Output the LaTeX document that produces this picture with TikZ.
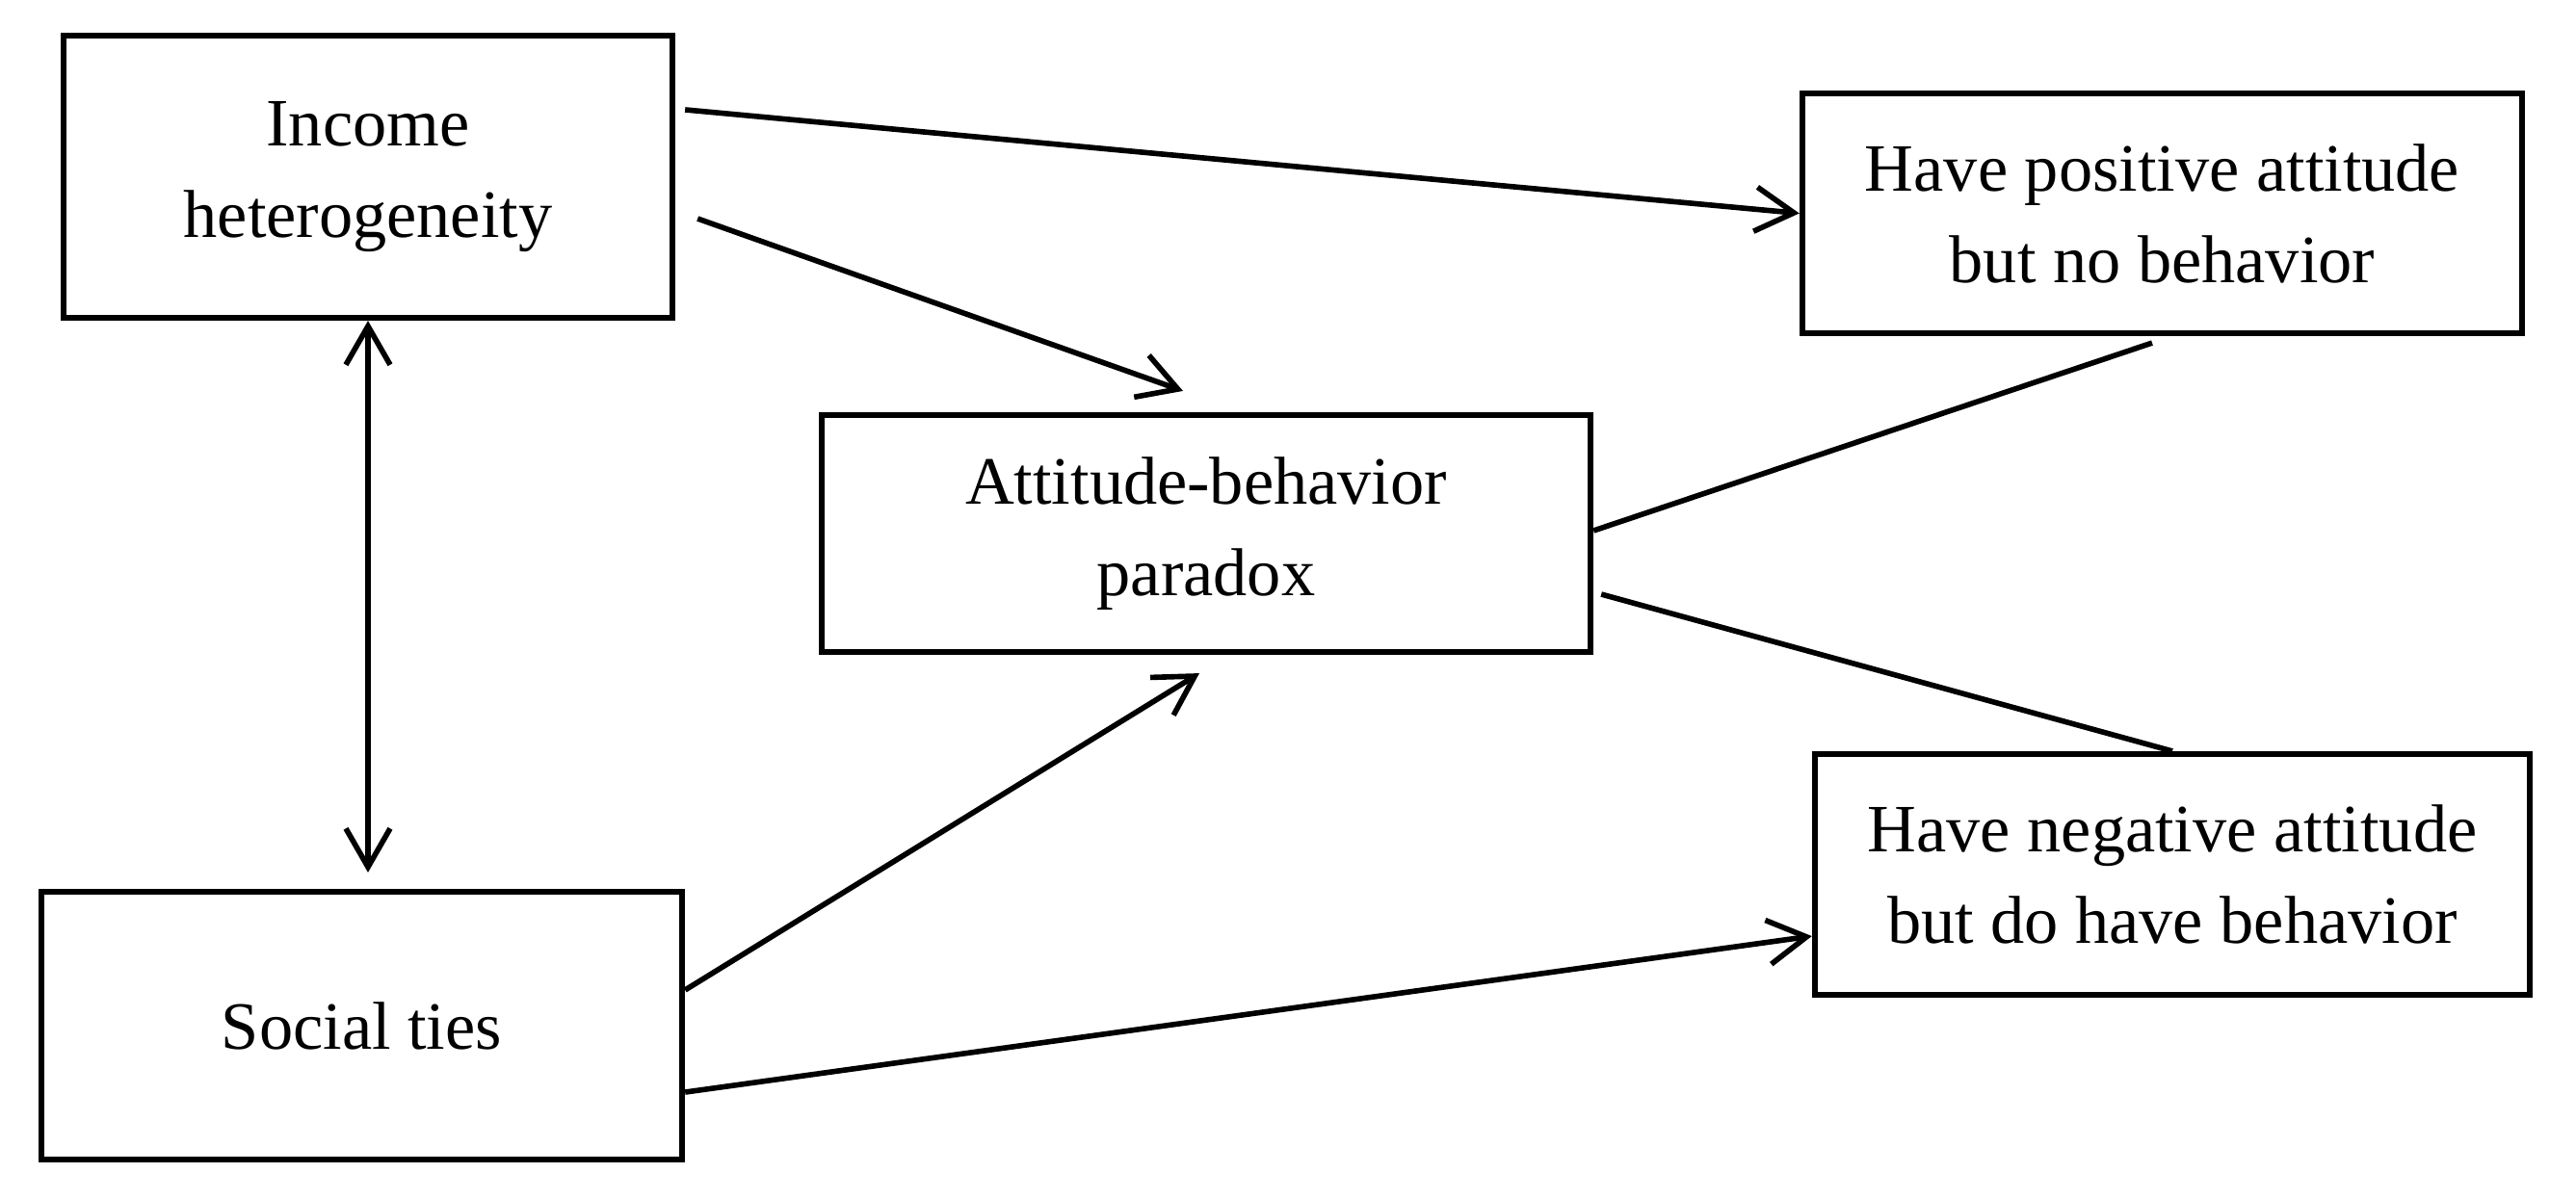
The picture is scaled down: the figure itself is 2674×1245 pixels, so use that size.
\documentclass[tikz,border=0pt]{standalone}
\usepackage{fontspec}
\setmainfont{Liberation Serif}
\usetikzlibrary{arrows.meta}

\begin{document}
\begin{tikzpicture}[x=0.01cm, y=-0.01cm,
    boite/.style={draw, line width=1.7pt, inner sep=0pt, align=center,
      font=\fontsize{20}{27}\selectfont},
    pointe/.tip={Straight Barb[length=4mm, width=4.6mm, line width=1.6pt]},
    fleche/.style={line width=1.6pt, -pointe},
    lien/.style={line width=1.6pt}]
  \useasboundingbox (0,0) rectangle (2674,1245);

  % Boites
  \node[boite, minimum width=6.32cm, minimum height=2.93cm] (revenu) at (382,183.5) {Income\\heterogeneity};
  \node[boite, minimum width=7.47cm, minimum height=2.49cm] (positif) at (2244.5,221.5) {Have positive attitude\\but no behavior};
  \node[boite, minimum width=7.98cm, minimum height=2.46cm] (paradoxe) at (1252,554) {Attitude-behavior\\paradox};
  \node[boite, minimum width=6.65cm, minimum height=2.78cm] (liens) at (375.5,1065) {Social ties};
  \node[boite, minimum width=7.42cm, minimum height=2.50cm] (negatif) at (2255,908) {Have negative attitude\\but do have behavior};

  % Fleches
  \draw[fleche] ([xshift=1mm, yshift=6.95mm]revenu.east) -- (positif.west);
  \draw[fleche] ([xshift=2.3mm, yshift=-4.35mm]revenu.east) -- ([xshift=-2.4mm, yshift=2.2mm]paradoxe.north);
  \draw[fleche, pointe-pointe, shorten >=1.7mm] (revenu.south) -- (revenu.south |- liens.north);
  \draw[fleche] ([yshift=3.7mm]liens.east) -- ([xshift=-0.7mm, yshift=-1.9mm]paradoxe.south);
  \draw[fleche] ([yshift=-6.9mm]liens.east) -- ([yshift=-6.4mm]negatif.west);

  % Traits sans fleche
  \draw[lien] ([yshift=0.3mm]paradoxe.east) -- ([xshift=-1.05mm, yshift=-0.7mm]positif.south);
  \draw[lien] ([xshift=0.8mm, yshift=-6.3mm]paradoxe.east) -- (negatif.north);
\end{tikzpicture}
\end{document}
